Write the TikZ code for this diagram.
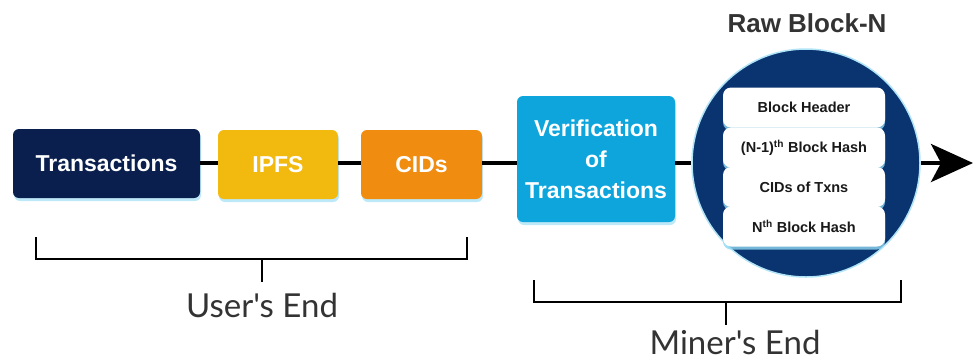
\documentclass[tikz,border=0pt]{standalone}
\usepackage{fontspec}
\setmainfont{Lato}[Ligatures={NoCommon,NoRare,TeXOff}]
\newfontfamily\medfont{Liberation Sans}
\usetikzlibrary{arrows.meta,shadows}
\definecolor{navy}{HTML}{0A1F4D}
\definecolor{ipfsyellow}{HTML}{F2B90F}
\definecolor{cidorange}{HTML}{F08C10}
\definecolor{verblue}{HTML}{0EA5DC}
\definecolor{blockblue}{HTML}{0A3470}
\definecolor{glow}{HTML}{8FD8F2}
\definecolor{labelgray}{HTML}{333333}
\begin{document}
\begin{tikzpicture}[x=1pt,y=-1pt,
  stage/.style={rounded corners=6pt, text=white, font=\medfont\bfseries\fontsize{23}{28}\selectfont,
    align=center, inner sep=0pt,
    drop shadow={shadow xshift=1pt, shadow yshift=-3pt, fill=glow, opacity=0.6}},
  field/.style={rounded corners=8pt, fill=white, minimum width=162pt, minimum height=40pt,
    inner sep=0pt, font=\medfont\bfseries\fontsize{14.5}{18}\selectfont, text=black!90,
    drop shadow={shadow xshift=0pt, shadow yshift=-3pt, fill=glow, opacity=0.8}},
  link/.style={line width=4pt, black},
  brace/.style={line width=2.2pt, black},
  endlabel/.style={text=labelgray, font=\fontsize{33}{38}\selectfont, inner sep=0pt}]
  \useasboundingbox (0,0) rectangle (975,360);

  % process stages along the main axis
  \node[stage, fill=navy, minimum width=187pt, minimum height=69pt] (tx) at (106.5,163.5) {Transactions};
  \node[stage, fill=ipfsyellow, minimum width=120pt, minimum height=69pt] (ipfs) at (278,164.5) {IPFS};
  \node[stage, fill=cidorange, minimum width=121pt, minimum height=69pt] (cid) at (421.5,164.5) {CIDs};
  \node[stage, fill=verblue, minimum width=158pt, minimum height=126pt,
        font=\medfont\bfseries\fontsize{23}{31}\selectfont] (ver) at (596,159) {Verification\\of\\Transactions};

  % raw block
  \node[circle, fill=blockblue, draw=glow!70, line width=1.5pt, minimum size=228pt, inner sep=0pt] (blk) at (806,163) {};
  \node[font=\medfont\bfseries\fontsize{26}{30}\selectfont, text=labelgray] (blkt) at (807,23) {Raw Block-N};
  \node[field] (f1) at (804,107.5) {Block Header};
  \node[field] (f2) at (804,147.5) {(N-1)\textsuperscript{th} Block Hash};
  \node[field] (f3) at (804,187) {CIDs of Txns};
  \node[field] (f4) at (804,226.5) {N\textsuperscript{th} Block Hash};

  % connectors
  \coordinate (tip) at (973,163);
  \draw[link] (tx.east |- 0,163) -- (ipfs.west |- 0,163);
  \draw[link] (ipfs.east |- 0,163) -- (cid.west |- 0,163);
  \draw[link] (cid.east |- 0,163) -- (ver.west |- 0,163);
  \draw[link] (ver.east |- 0,163) -- (blk.west);
  \draw[link, -{Stealth[length=42pt,width=38pt,inset=10pt]}] (blk.east) -- (tip);

  % user's end bracket
  \coordinate (u1) at (36,237);
  \coordinate (u2) at (467,237);
  \coordinate (um) at (262,259);
  \draw[brace] (u1) -- (u1 |- um) -- (u2 |- um) -- (u2);
  \draw[brace] (um) -- ++(0,23);
  \node[endlabel, anchor=base] (ue) at (262,317) {User's End};

  % miner's end bracket
  \coordinate (m1) at (534,280);
  \coordinate (m2) at (901,280);
  \coordinate (mm) at (726,302);
  \draw[brace] (m1) -- (m1 |- mm) -- (m2 |- mm) -- (m2);
  \draw[brace] (mm) -- ++(0,23);
  \node[endlabel, anchor=base] (me) at (735,354) {Miner's End};
\end{tikzpicture}
\end{document}
